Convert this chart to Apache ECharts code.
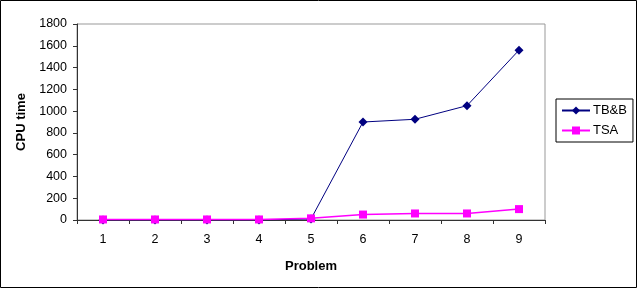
<!DOCTYPE html>
<html>
<head>
<meta charset="utf-8">
<script src="https://cdn.jsdelivr.net/npm/echarts@6/dist/echarts.min.js"></script>
<style>
  html, body { margin: 0; padding: 0; background: #fff; }
  #chart { width: 637px; height: 288px; }
</style>
</head>
<body>
<div id="chart"></div>
<script>
// data
var problems = ['1', '2', '3', '4', '5', '6', '7', '8', '9'];
var tbb = [0, 0, 0, 0, 10, 900, 925, 1050, 1560];
var tsa = [5, 5, 5, 5, 15, 50, 60, 60, 100];

var chart = echarts.init(document.getElementById('chart'));
var font = 'Liberation Sans, Arial, sans-serif';

var option = {
  animation: false,
  graphic: [{
    type: 'rect',
    shape: { x: 0.5, y: 0.5, width: 636, height: 287 },
    style: { fill: 'none', stroke: '#000', lineWidth: 1 },
    silent: true
  }],
  grid: {
    left: 77, top: 24, width: 468, height: 196,
    show: true, borderColor: '#999', borderWidth: 1, backgroundColor: '#fff'
  },
  legend: {
    orient: 'vertical',
    left: 556, top: 99,
    width: 75,
    padding: [5, 6, 5, 5],
    itemGap: 7,
    itemWidth: 28, itemHeight: 10,
    borderColor: '#000', borderWidth: 1,
    textStyle: { fontFamily: font, fontSize: 13, color: '#000', padding: [0, 0, 0, -2] },
    data: ['TB&B', 'TSA']
  },
  xAxis: {
    type: 'category',
    data: problems,
    boundaryGap: true,
    name: 'Problem',
    nameLocation: 'middle',
    nameGap: 40,
    nameTextStyle: { fontFamily: font, fontSize: 13, fontWeight: 'bold', color: '#000' },
    axisLine: { lineStyle: { color: '#333' } },
    axisTick: { show: true, length: 4, alignWithLabel: false, lineStyle: { color: '#333' } },
    axisLabel: { fontFamily: font, fontSize: 12.5, color: '#000', margin: 13 },
    splitLine: { show: false }
  },
  yAxis: {
    type: 'value',
    min: 0, max: 1800, interval: 200,
    name: 'CPU time',
    nameLocation: 'middle',
    nameGap: 41,
    nameRotate: 90,
    nameTextStyle: { fontFamily: font, fontSize: 13, fontWeight: 'bold', color: '#000' },
    axisLine: { show: true, lineStyle: { color: '#333' } },
    axisTick: { show: true, length: 4, lineStyle: { color: '#333' } },
    axisLabel: { fontFamily: font, fontSize: 12.5, color: '#000', margin: 10, formatter: function (v) { return String(v); } },
    splitLine: { show: false }
  },
  series: [
    {
      name: 'TB&B',
      type: 'line',
      data: tbb,
      symbol: 'diamond',
      symbolSize: 9,
      color: '#000080',
      lineStyle: { width: 1, color: '#000080' },
      itemStyle: { color: '#000080' },
      z: 3
    },
    {
      name: 'TSA',
      type: 'line',
      data: tsa,
      symbol: 'rect',
      symbolSize: 8,
      color: '#ff00ff',
      lineStyle: { width: 1.5, color: '#ff00ff' },
      itemStyle: { color: '#ff00ff' },
      z: 4
    }
  ]
};

chart.setOption(option);
</script>
</body>
</html>
